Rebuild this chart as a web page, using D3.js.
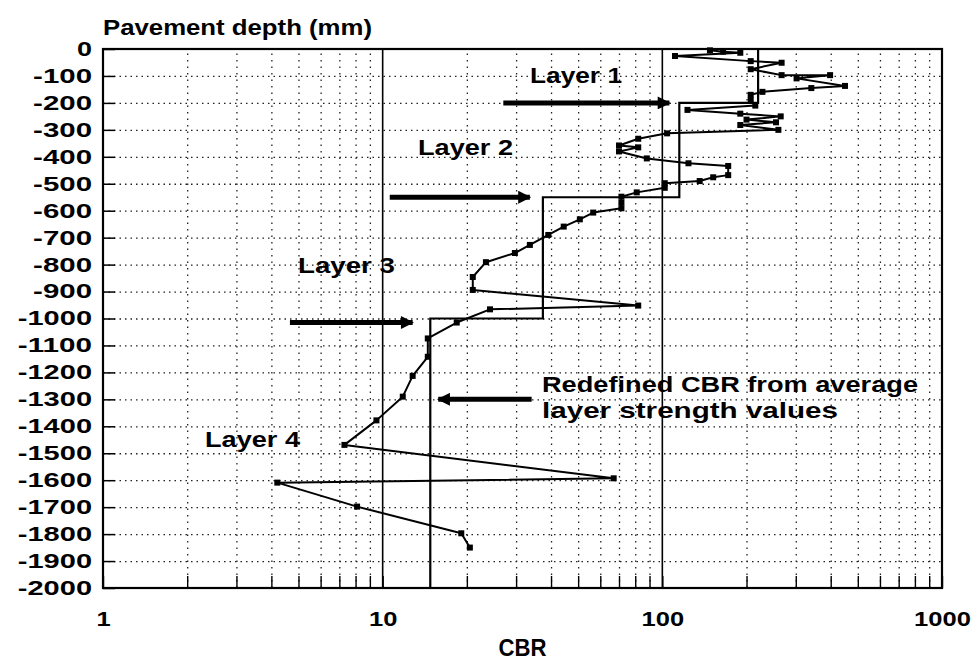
<!DOCTYPE html>
<html>
<head>
<meta charset="utf-8">
<script src="https://cdn.jsdelivr.net/npm/d3@7"></script>
<style>
  body { margin: 0; background: #fff; }
  svg text { font-family: "Liberation Sans", Arial, sans-serif; font-weight: bold; fill: #000; }
</style>
</head>
<body>
<svg id="chart" width="975" height="660"></svg>
<script>
// measured DCP profile (depth mm, CBR)
const measuredDepth = [-5, -10, -14, -26, -45, -51, -75, -97, -97, -109, -137, -145, -159, -170, -190,
  -210, -226, -240, -250, -262, -272, -282, -300, -313, -333, -358, -365, -380, -406, -424, -434,
  -468, -476, -490, -498, -515, -532, -548, -570, -591, -607, -632, -659, -690, -727, -757, -791,
  -846, -894, -952, -966, -1015, -1074, -1142, -1213, -1290, -1378, -1469, -1593, -1609, -1698,
  -1797, -1850];
const measuredCbr = [148, 165, 190, 111, 207, 267, 207, 267, 398, 302, 450, 341, 228, 207, 207,
  215, 123, 190, 265, 200, 255, 190, 260, 104, 82, 70, 82, 70, 88, 124, 172,
  172, 152, 136, 102, 102, 81, 71.4, 71.4, 71.4, 56.6, 50.7, 44.4, 39.1, 33.6, 29.7, 23.4,
  21, 21, 82, 24.2, 18.4, 14.5, 14.5, 12.8, 11.8, 9.5, 7.3, 67, 4.2, 8.1,
  19.1, 20.5];

// redefined CBR from average layer strength
const layerDepth = [0, -200, -200, -550, -550, -1000, -1000, -2000];
const layerCbr = [220, 220, 115, 115, 37.4, 37.4, 14.8, 14.8];

// annotation arrows
const arrowFrom = [27, 10.6, 4.66, 34.1];
const arrowTo = [106, 33.6, 12.8, 15.8];
const arrowDepth = [-200, -550, -1015, -1300];

const depthTicks = d3.range(0, -2001, -100);
const cbrMajor = [1, 10, 100, 1000];
const cbrMinor = [2, 3, 4, 5, 6, 7, 8, 9, 20, 30, 40, 50, 60, 70, 80, 90, 200, 300, 400, 500, 600, 700, 800, 900];

const margin = { top: 49, right: 33, bottom: 72, left: 103 };
const width = 975, height = 660;

const svg = d3.select('#chart');

const x = d3.scaleLog().domain([1, 1000]).range([margin.left, width - margin.right]);
const y = d3.scaleLinear().domain([-2000, 0]).range([height - margin.bottom, margin.top]);

const plotH = y(-2000) - y(0);
const plotW = x(1000) - x(1);

// dotted grid
svg.append('g')
  .attr('transform', `translate(0,${y(-2000)})`)
  .call(d3.axisBottom(x).tickValues(cbrMinor).tickSize(-plotH).tickFormat(''))
  .call((g) => g.select('.domain').remove())
  .call((g) => g.selectAll('line').attr('stroke', '#222').attr('stroke-width', 1.3).attr('stroke-dasharray', '1.5,5'));

svg.append('g')
  .attr('transform', `translate(${x(1)},0)`)
  .call(d3.axisLeft(y).tickValues(depthTicks.slice(1, -1)).tickSize(-plotW).tickFormat(''))
  .call((g) => g.select('.domain').remove())
  .call((g) => g.selectAll('line').attr('stroke', '#222').attr('stroke-width', 1.3).attr('stroke-dasharray', '1.5,4'));

// solid decade lines
svg.append('g')
  .selectAll('line')
  .data([10, 100])
  .join('line')
  .attr('x1', (d) => x(d))
  .attr('x2', (d) => x(d))
  .attr('y1', y(0))
  .attr('y2', y(-2000))
  .attr('stroke', '#000')
  .attr('stroke-width', 1.6);

// axes
const yAxis = svg.append('g')
  .attr('transform', `translate(${x(1)},0)`)
  .call(d3.axisLeft(y).tickValues(depthTicks).tickSizeInner(-12).tickSizeOuter(0).tickPadding(11)
    .tickFormat((d) => (d === 0 ? '0' : '-' + Math.abs(d))));
yAxis.select('.domain').remove();
yAxis.selectAll('line').attr('stroke', '#000').attr('stroke-width', 1.5);
yAxis.selectAll('text')
  .attr('font-size', 20)
  .attr('textLength', (d) => (d === 0 ? 15 : 13 + String(Math.abs(d)).length * 15.3))
  .attr('lengthAdjust', 'spacingAndGlyphs');

const xAxis = svg.append('g')
  .attr('transform', `translate(0,${y(-2000)})`)
  .call(d3.axisBottom(x).tickValues(cbrMinor.concat(cbrMajor)).tickSizeInner(-12).tickSizeOuter(0).tickPadding(24)
    .tickFormat((d) => (cbrMajor.includes(d) ? String(d) : '')));
xAxis.select('.domain').remove();
xAxis.selectAll('line').attr('stroke', '#000').attr('stroke-width', 1.4);
xAxis.selectAll('text')
  .filter((d) => !cbrMajor.includes(d))
  .remove();
xAxis.selectAll('text')
  .attr('font-size', 20)
  .attr('textLength', (d) => String(d).length * 14.2)
  .attr('lengthAdjust', 'spacingAndGlyphs');

// frame
svg.append('rect')
  .attr('x', x(1))
  .attr('y', y(0))
  .attr('width', plotW)
  .attr('height', plotH)
  .attr('fill', 'none')
  .attr('stroke', '#000')
  .attr('stroke-width', 2.2);

// redefined CBR step line
const layerPts = layerDepth.map((d, i) => [layerCbr[i], d]);
svg.append('path')
  .datum(layerPts)
  .attr('fill', 'none')
  .attr('stroke', '#000')
  .attr('stroke-width', 2.2)
  .attr('d', d3.line().x((d) => x(d[0])).y((d) => y(d[1])));

// measured profile
const pts = measuredDepth.map((d, i) => [measuredCbr[i], d]);
svg.append('path')
  .datum(pts)
  .attr('fill', 'none')
  .attr('stroke', '#000')
  .attr('stroke-width', 2)
  .attr('stroke-linejoin', 'round')
  .attr('d', d3.line().x((d) => x(d[0])).y((d) => y(d[1])));

svg.append('g')
  .selectAll('rect')
  .data(pts)
  .join('rect')
  .attr('x', (d) => x(d[0]) - 3)
  .attr('y', (d) => y(d[1]) - 3)
  .attr('width', 6)
  .attr('height', 6)
  .attr('fill', '#000');

// arrows
svg.append('defs')
  .append('marker')
  .attr('id', 'head')
  .attr('viewBox', '0 0 10 10')
  .attr('refX', 9)
  .attr('refY', 5)
  .attr('markerWidth', 3)
  .attr('markerHeight', 2.6)
  .attr('markerUnits', 'strokeWidth')
  .attr('orient', 'auto')
  .append('path')
  .attr('d', 'M0,0L10,5L0,10Z')
  .attr('fill', '#000');

svg.append('g')
  .selectAll('line')
  .data(arrowDepth)
  .join('line')
  .attr('x1', (d, i) => x(arrowFrom[i]))
  .attr('x2', (d, i) => x(arrowTo[i]))
  .attr('y1', (d) => y(d))
  .attr('y2', (d) => y(d))
  .attr('stroke', '#000')
  .attr('stroke-width', 5)
  .attr('marker-end', 'url(#head)');

// labels
const labels = [
  { t: 'Layer 1', x: 530, y: 83, w: 92 },
  { t: 'Layer 2', x: 418, y: 155, w: 95 },
  { t: 'Layer 3', x: 298, y: 273, w: 97 },
  { t: 'Layer 4', x: 205, y: 447, w: 95 },
  { t: 'Redefined CBR from average', x: 542, y: 392, w: 376 },
  { t: 'layer strength values', x: 542, y: 418, w: 296 },
  { t: 'Pavement depth (mm)', x: 103, y: 35, w: 269 },
];
svg.append('g')
  .selectAll('text')
  .data(labels)
  .join('text')
  .attr('x', (d) => d.x)
  .attr('y', (d) => d.y)
  .attr('font-size', 22)
  .attr('textLength', (d) => d.w)
  .attr('lengthAdjust', 'spacingAndGlyphs')
  .text((d) => d.t);

svg.append('text')
  .attr('x', (x(1) + x(1000)) / 2)
  .attr('y', 656)
  .attr('text-anchor', 'middle')
  .attr('font-size', 23)
  .attr('textLength', 48)
  .attr('lengthAdjust', 'spacingAndGlyphs')
  .text('CBR');
</script>
</body>
</html>
